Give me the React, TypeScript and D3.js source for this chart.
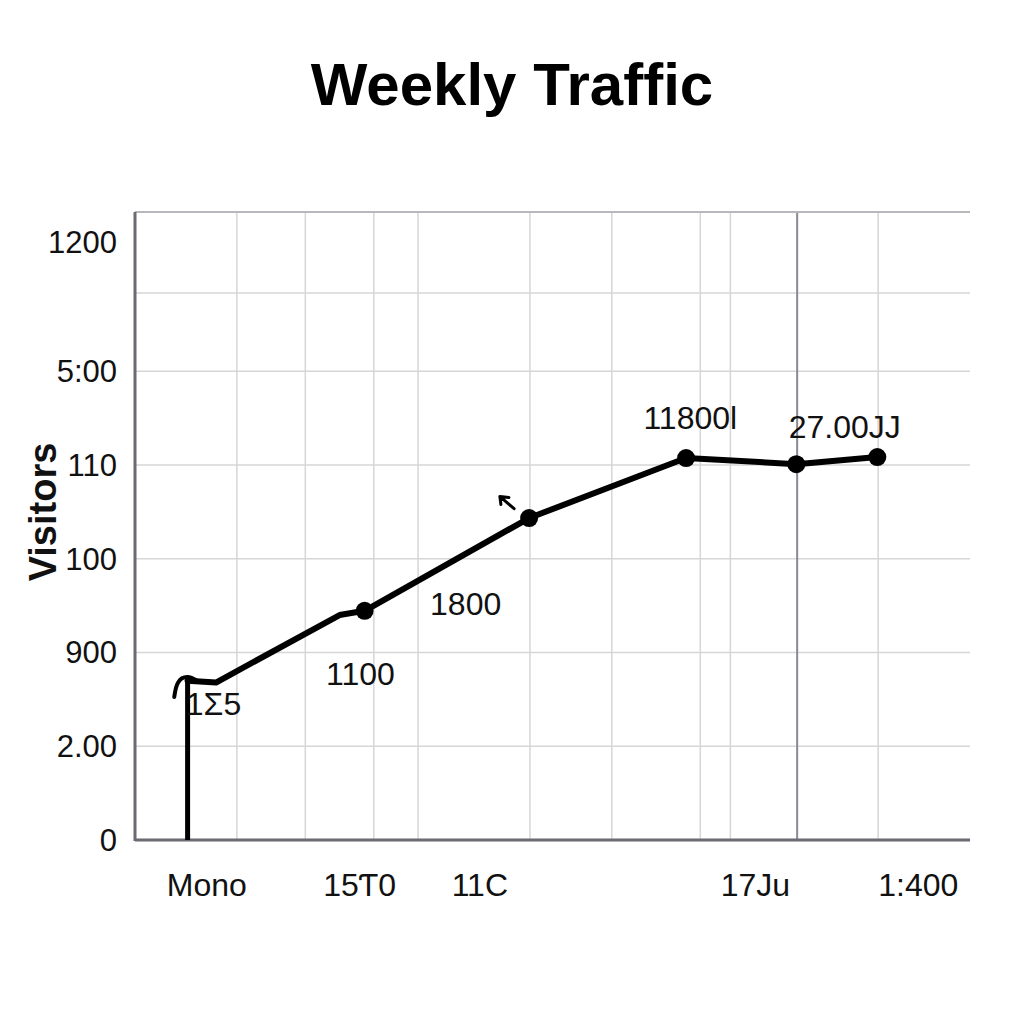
import React from 'react'
import * as d3 from 'd3'

// values (x is position along the week axis, 0..10)
const lineX = [0.63, 0.97, 2.45, 2.75, 4.72, 6.6, 7.92, 8.89]
const lineY = [340, 336, 480, 489, 687, 815, 802, 817]
const markerIdx = [3, 4, 5, 6, 7]

const spikeX = [0.63, 0.63]
const spikeY = [0, 340]
const hookX = [0.47, 0.5, 0.63, 0.76]
const hookY = [305, 340, 352, 338]

const yTickValues = [0, 200, 400, 600, 800, 1000, 1276]
const yTickLabels = ['0', '2.00', '900', '100', '110', '5:00', '1200']
const yGridValues = [200, 400, 600, 800, 1000, 1167]

const xGridValues = [1.22, 2.04, 2.86, 3.39, 4.73, 5.71, 6.77, 7.13, 8.9]
const xDarkGrid = [7.93]
const xTickValues = [0.86, 2.69, 4.13, 7.43, 9.38]
const xTickLabels = ['Mono', '15Ƭ0', '11C', '17Ju', '1:400']

const pointLabelX = [0.94, 2.7, 3.96, 6.65, 8.5]
const pointLabelY = [290, 355, 505, 900, 882]
const pointLabels = ['1Ʃ5', '1100', '1800', '11800l', '27.00JJ']

const width = 1024
const height = 1024
const margin = { top: 212, right: 54, bottom: 184, left: 135 }
const font = '"Liberation Sans", Arial, sans-serif'

export default function App() {
  const x = d3.scaleLinear().domain([0, 10]).range([margin.left, width - margin.right])
  const y = d3.scaleLinear().domain([0, 1340]).range([height - margin.bottom, margin.top])

  const pts = lineX.map((v, i) => [v, lineY[i]] as [number, number])
  const mainLine = d3.line<[number, number]>().x(d => x(d[0])).y(d => y(d[1]))
  const hook = d3.line<[number, number]>().x(d => x(d[0])).y(d => y(d[1])).curve(d3.curveBasis)

  const x0 = margin.left
  const x1 = width - margin.right
  const y0 = height - margin.bottom
  const y1 = margin.top

  return (
    <svg width={width} height={height} style={{ display: 'block', margin: -8, background: '#fff' }}>
      <rect width={width} height={height} fill="#fff" />
      <text x={width / 2} y={105} textAnchor="middle" fontFamily={font} fontWeight="bold" fontSize={60} fill="#000">
        Weekly Traffic
      </text>

      {yGridValues.map(v => (
        <line key={'gy' + v} x1={x0} x2={x1} y1={y(v)} y2={y(v)} stroke="#d6d6d6" strokeWidth={1.5} />
      ))}
      {xGridValues.map(v => (
        <line key={'gx' + v} x1={x(v)} x2={x(v)} y1={y1} y2={y0} stroke="#d6d6d6" strokeWidth={1.5} />
      ))}
      {xDarkGrid.map(v => (
        <line key={'gd' + v} x1={x(v)} x2={x(v)} y1={y1} y2={y0} stroke="#8a8a93" strokeWidth={2} />
      ))}
      <line x1={x0} x2={x1} y1={y1} y2={y1} stroke="#b8b8bc" strokeWidth={2} />
      <line x1={x0} x2={x0} y1={y1} y2={y0 + 1} stroke="#6b6b73" strokeWidth={3} />
      <line x1={x0} x2={x1} y1={y0} y2={y0} stroke="#6b6b73" strokeWidth={3} />

      {yTickValues.map((v, i) => (
        <text key={'ty' + v} x={117} y={y(v)} dy="0.35em" textAnchor="end" fontFamily={font} fontSize={31} fill="#111">
          {yTickLabels[i]}
        </text>
      ))}
      {xTickValues.map((v, i) => (
        <text key={'tx' + v} x={x(v)} y={896} textAnchor="middle" fontFamily={font} fontSize={32} fill="#111">
          {xTickLabels[i]}
        </text>
      ))}
      <text transform="translate(56,512) rotate(-90)" textAnchor="middle" fontFamily={font} fontWeight="bold" fontSize={38} fill="#111">
        Visitors
      </text>

      <line x1={x(spikeX[0])} x2={x(spikeX[1])} y1={y(spikeY[0])} y2={y(spikeY[1])} stroke="#000" strokeWidth={5} />
      <path d={hook(hookX.map((v, i) => [v, hookY[i]] as [number, number])) || ''} fill="none" stroke="#000" strokeWidth={4} strokeLinecap="round" />
      <path d={mainLine(pts) || ''} fill="none" stroke="#000" strokeWidth={6} strokeLinejoin="round" strokeLinecap="round" />
      {markerIdx.map(i => (
        <circle key={'m' + i} cx={x(lineX[i])} cy={y(lineY[i])} r={9} fill="#000" />
      ))}
      <path d={`M${x(4.54)},${y(707)} L${x(4.37)},${y(733)} M${x(4.37)},${y(733)} l9,1 M${x(4.37)},${y(733)} l1,8`} stroke="#000" strokeWidth={3} fill="none" strokeLinecap="round" />

      {pointLabels.map((t, i) => (
        <text key={'pl' + i} x={x(pointLabelX[i])} y={y(pointLabelY[i])} dy="0.35em" textAnchor="middle" fontFamily={font} fontSize={32} fill="#111">
          {t}
        </text>
      ))}
    </svg>
  )
}
